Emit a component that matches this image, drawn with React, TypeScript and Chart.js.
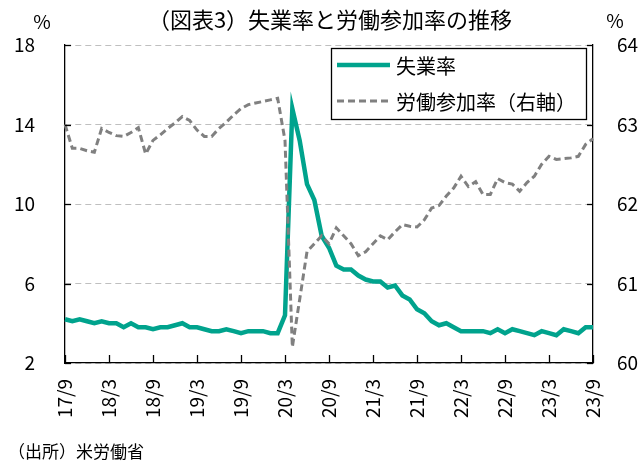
import React, { useEffect, useRef } from "react";
import { Chart, registerables } from "chart.js";

Chart.register(...registerables);

const START_YEAR = 17;
const START_MONTH = 9;
const MONTH_COUNT = 73;
const categories: string[] = [];
for (let i = 0; i < MONTH_COUNT; i++) {
  const m = START_MONTH - 1 + i;
  categories.push(`${START_YEAR + Math.floor(m / 12)}/${(m % 12) + 1}`);
}

const unemployment = [
  4.2, 4.1, 4.2, 4.1, 4.0, 4.1, 4.0, 4.0, 3.8, 4.0, 3.8, 3.8,
  3.7, 3.8, 3.8, 3.9, 4.0, 3.8, 3.8, 3.7, 3.6, 3.6, 3.7, 3.6,
  3.5, 3.6, 3.6, 3.6, 3.5, 3.5, 4.4, 14.8, 13.2, 11.0, 10.2, 8.4,
  7.8, 6.9, 6.7, 6.7, 6.4, 6.2, 6.1, 6.1, 5.8, 5.9, 5.4, 5.2,
  4.7, 4.5, 4.1, 3.9, 4.0, 3.8, 3.6, 3.6, 3.6, 3.6, 3.5, 3.7,
  3.5, 3.7, 3.6, 3.5, 3.4, 3.6, 3.5, 3.4, 3.7, 3.6, 3.5, 3.8,
  3.8,
];

const participation = [
  63.0, 62.7, 62.7, 62.67, 62.65, 62.95, 62.9, 62.86, 62.85, 62.9, 62.96, 62.63,
  62.8, 62.87, 62.95, 63.02, 63.1, 63.05, 62.93, 62.85, 62.85, 62.95, 63.03, 63.12,
  63.2, 63.25, 63.27, 63.29, 63.31, 63.33, 62.8, 60.2, 60.8, 61.4, 61.5, 61.6,
  61.5, 61.7, 61.6, 61.5, 61.35, 61.4, 61.5, 61.6, 61.55, 61.65, 61.74, 61.72,
  61.71, 61.8, 61.95, 61.98, 62.1, 62.2, 62.35, 62.22, 62.28, 62.12, 62.12, 62.32,
  62.27, 62.25, 62.16, 62.27, 62.35, 62.5, 62.6, 62.56, 62.57, 62.58, 62.6, 62.75,
  62.82,
];

const leftTicks = { min: 2, max: 18, step: 4 };
const rightTicks = { min: 60, max: 64, step: 1 };
const LABEL_EVERY = 6;

const TITLE = "（図表3）失業率と労働参加率の推移";
const SOURCE = "（出所）米労働省";
const UNIT = "%";
const SERIES_NAMES = ["失業率", "労働参加率（右軸）"];

const FONT = "'Noto Sans CJK JP', 'Noto Sans', sans-serif";
const TEAL = "#00A38D";
const GRAY = "#808080";

export default function App() {
  const ref = useRef<HTMLCanvasElement | null>(null);

  useEffect(() => {
    if (!ref.current) return;

    const decor = {
      id: "decor",
      afterDraw(chart: any) {
        const { ctx, chartArea } = chart;
        const { left, right, top, bottom } = chartArea;
        ctx.save();
        // tick marks (inward)
        ctx.strokeStyle = "#000";
        ctx.lineWidth = 1.3;
        ctx.setLineDash([]);
        const ys = chart.scales.y;
        ys.ticks.forEach((t: any) => {
          const y = Math.round(ys.getPixelForValue(t.value)) + 0.5;
          ctx.beginPath();
          ctx.moveTo(left, y);
          ctx.lineTo(left + 6, y);
          ctx.stroke();
        });
        const ys1 = chart.scales.y1;
        ys1.ticks.forEach((t: any) => {
          const y = Math.round(ys1.getPixelForValue(t.value)) + 0.5;
          ctx.beginPath();
          ctx.moveTo(right, y);
          ctx.lineTo(right - 6, y);
          ctx.stroke();
        });
        const xs = chart.scales.x;
        for (let i = 0; i < categories.length; i += LABEL_EVERY) {
          const x = Math.round(xs.getPixelForValue(i)) + 0.5;
          ctx.beginPath();
          ctx.moveTo(x, bottom);
          ctx.lineTo(x, bottom - 8);
          ctx.stroke();
        }

        // texts
        ctx.fillStyle = "#000";
        ctx.textBaseline = "middle";
        ctx.font = `22px ${FONT}`;
        ctx.textAlign = "center";
        ctx.fillText(TITLE, 330, 20);
        ctx.font = `19px ${FONT}`;
        ctx.fillText(UNIT, 42, 22);
        ctx.fillText(UNIT, 615, 21);
        ctx.font = `17px ${FONT}`;
        ctx.textAlign = "left";
        ctx.fillText(SOURCE, 8, 452);

        // legend
        const lx = 331, ly = 48, lw = 255, lh = 71;
        ctx.fillStyle = "#fff";
        ctx.fillRect(lx, ly, lw, lh);
        ctx.strokeStyle = "#000";
        ctx.lineWidth = 1.3;
        ctx.strokeRect(lx + 0.5, ly + 0.5, lw, lh);
        const ds = chart.data.datasets;
        const rows = [65, 101];
        rows.forEach((ry, i) => {
          const d = ds[i];
          ctx.strokeStyle = d.borderColor;
          ctx.lineWidth = d.borderWidth;
          ctx.setLineDash(d.borderDash || []);
          ctx.beginPath();
          ctx.moveTo(337, ry);
          ctx.lineTo(390, ry);
          ctx.stroke();
          ctx.setLineDash([]);
          ctx.fillStyle = "#000";
          ctx.font = `20px ${FONT}`;
          ctx.textAlign = "left";
          ctx.fillText(d.label, 396, ry + 1);
        });
        ctx.restore();
      },
    };

    const chart = new Chart(ref.current, {
      type: "line",
      data: {
        labels: categories,
        datasets: [
          {
            label: SERIES_NAMES[0],
            data: unemployment,
            borderColor: TEAL,
            borderWidth: 4.5,
            pointRadius: 0,
            tension: 0,
            yAxisID: "y",
            order: 1,
          },
          {
            label: SERIES_NAMES[1],
            data: participation,
            borderColor: GRAY,
            borderWidth: 3,
            borderDash: [7, 4],
            pointRadius: 0,
            tension: 0,
            yAxisID: "y1",
            order: 0,
          },
        ],
      },
      options: {
        responsive: false,
        animation: false,
        layout: { padding: { top: 45, left: 0, right: 0, bottom: 0 } },
        plugins: { legend: { display: false }, tooltip: { enabled: false } },
        scales: {
          x: {
            type: "category",
            offset: false,
            grid: { display: false, drawTicks: false },
            border: { display: true, color: "#000", width: 1.3 },
            ticks: {
              autoSkip: false,
              minRotation: 90,
              maxRotation: 90,
              padding: 16,
              color: "#000",
              font: { family: FONT, size: 19 },
              callback: (value: any, index: number) =>
                index % LABEL_EVERY === 0 ? categories[index] : "",
            },
            afterFit: (s: any) => {
              s.height = 98;
            },
          },
          y: {
            position: "left",
            min: leftTicks.min,
            max: leftTicks.max,
            grid: { color: "#BFBFBF", lineWidth: 1, drawTicks: false },
            border: { display: true, color: "#000", width: 1.3, dash: [6, 4] },
            ticks: {
              stepSize: leftTicks.step,
              padding: 30,
              color: "#000",
              font: { family: FONT, size: 19 },
            },
            afterFit: (s: any) => {
              s.width = 65;
            },
          },
          y1: {
            position: "right",
            min: rightTicks.min,
            max: rightTicks.max,
            grid: { display: false, drawOnChartArea: false, drawTicks: false },
            border: { display: true, color: "#000", width: 1.3 },
            ticks: {
              stepSize: rightTicks.step,
              padding: 24,
              color: "#000",
              font: { family: FONT, size: 19 },
            },
            afterFit: (s: any) => {
              s.width = 51;
            },
          },
        },
      },
      plugins: [decor],
    });

    return () => chart.destroy();
  }, []);

  return (
    <div style={{ position: "absolute", left: 0, top: 0, width: 644, height: 461, background: "#fff" }}>
      <canvas ref={ref} width={644} height={461} />
    </div>
  );
}
